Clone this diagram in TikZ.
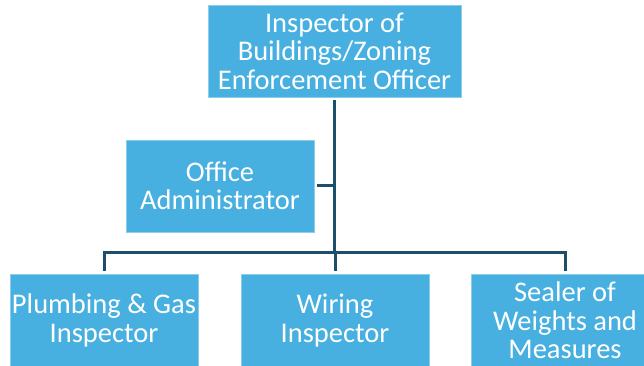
\documentclass[tikz,border=0pt]{standalone}
\usepackage{fontspec}
\setmainfont{Carlito}
\definecolor{boxblue}{HTML}{47B0E0}
\definecolor{boxedge}{HTML}{8CCDEB}
\definecolor{linecol}{HTML}{1B4F6B}
\begin{document}
\begin{tikzpicture}[x=1pt,y=1pt,
  orgbox/.style={rectangle, fill=boxblue, draw=boxedge, line width=0.6pt,
    text=white, align=center, inner sep=1pt, outer sep=3pt,
    font=\fontsize{28.5}{28.5}\selectfont, anchor=center},
  conn/.style={draw=linecol, line width=3pt}]
\clip (0,0) rectangle (644,366);
\fill[white] (0,0) rectangle (644,366);
\node[orgbox, minimum width=253pt, minimum height=92pt] (top) at (334.5,315) {Inspector of\\Buildings/Zoning\\Enforcement Officer};
\node[orgbox, minimum width=188pt, minimum height=92pt] (admin) at (220,180) {Office\\Administrator};
\node[orgbox, minimum width=188pt, minimum height=92pt] (plumb) at (104,45.5) {Plumbing \& Gas\\Inspector};
\node[orgbox, minimum width=188pt, minimum height=92pt] (wire) at (335,45.5) {Wiring\\Inspector};
\node[orgbox, minimum width=188pt, minimum height=92pt] (seal) at (565,45.5) {Sealer of\\Weights and\\Measures};
\coordinate (bus) at (335,113);
\coordinate (busL) at (104,113);
\coordinate (busR) at (565,113);
\path[conn] (top.south) -- (top.south |- bus);
\path[conn] (admin.east) -- (admin.east -| bus);
\path[conn, line cap=rect] (busL) -- (busR);
\path[conn] (busL) -- (plumb.north);
\path[conn] (bus) -- (wire.north);
\path[conn] (busR) -- (seal.north);
\end{tikzpicture}
\end{document}
